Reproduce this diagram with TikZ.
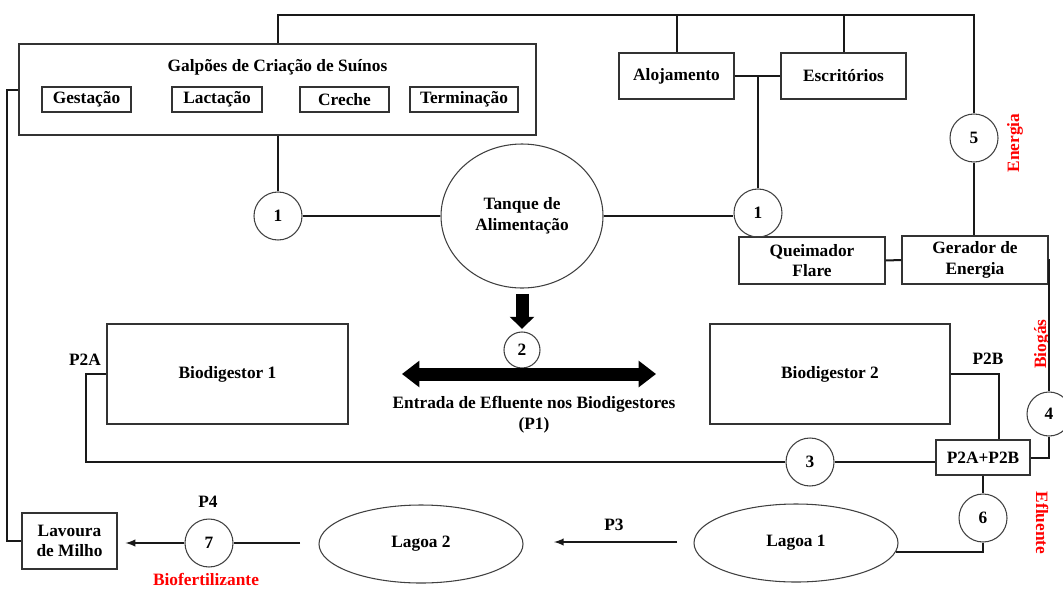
\documentclass[tikz,border=0pt]{standalone}
\usepackage{fontspec}
\setmainfont{Liberation Serif}
\usetikzlibrary{shapes.geometric, arrows.meta}

\begin{document}
\begin{tikzpicture}[x = 0.75pt, y = -0.75pt, > = latex,
	font = \bfseries\fontsize{13}{15.5}\selectfont,
	linha/.style = {line width = 1.5pt, draw = black!90},
	caixa/.style 2 args = {draw = black!80, line width = 0.9pt, rectangle, inner sep = 0pt, align = center, minimum width = #1*0.75pt, minimum height = #2*0.75pt},
	bolha/.style = {draw = black!75, line width = 0.8pt, circle, inner sep = 0pt, minimum size = 48*0.75pt},
	oval/.style 2 args = {draw = black!75, line width = 0.8pt, ellipse, inner sep = 0pt, align = center, minimum width = #1*0.75pt, minimum height = #2*0.75pt},
	seta/.style = {line width = 9.75pt, draw = black},
	rotulo/.style = {text = red}]

	\useasboundingbox (0, 0) rectangle (1063, 590);

	% Galpoes
	
	\node [caixa = {517}{91}] (galpoes) at (277.5, 89.5) {};
	\node (galpoesTitulo) at (277.5, 67) {Galpões de Criação de Suínos};
	\node [caixa = {89}{25}] (gestacao) at (86.5, 99.5) {Gestação};
	\node [caixa = {90}{25}] (lactacao) at (217, 99.5) {Lactação};
	\node [caixa = {89}{25}] (creche) at (344.5, 99.5) {Creche};
	\node [caixa = {108}{25}] (terminacao) at (464, 99.5) {Terminação};
	
	% Alojamento, escritorios, energia
	
	\node [caixa = {115}{46}] (alojamento) at (676.5, 76) {Alojamento};
	\node [caixa = {125}{46}] (escritorios) at (843.5, 76) {Escritórios};
	\node [caixa = {146}{47}] (queimador) at (812, 260.5) {Queimador\\Flare};
	\node [caixa = {146}{48}] (gerador) at (975, 260) {Gerador de\\Energia};
	\node [bolha] (c5) at (974, 138) {5};
	\node [rotulo, rotate = 90] (energia) at (1015, 143) {Energia};
	
	% Tanque
	
	\node [oval = {162}{144}] (tanque) at (522, 216) {Tanque de\\Alimentação};
	\node [bolha] (c1a) at (278, 216) {1};
	\node [bolha] (c1b) at (758, 213) {1};
	
	% Biodigestores
	
	\node [caixa = {241}{100}] (bio1) at (227.5, 374) {Biodigestor 1};
	\node [caixa = {240}{100}] (bio2) at (830, 374) {Biodigestor 2};
	\node (p2aTexto) at (85, 360) {P2A};
	\node (p2bTexto) at (988, 359) {P2B};
	\node [caixa = {94}{35}] (mistura) at (983, 457.5) {P2A+P2B};
	\node [bolha, minimum size = 36*0.75pt] (c2) at (522, 350) {2};
	\node [bolha] (c3) at (810, 462) {3};
	\node [bolha, minimum size = 44*0.75pt] (c4) at (1049, 414) {4};
	\node [rotulo, rotate = 90] (biogas) at (1042, 344) {Biogás};
	\node [align = center] (entrada) at (534, 415) {Entrada de Efluente nos Biodigestores\\(P1)};
	
	% Lagoas e lavoura
	
	\node [oval = {204}{78}] (lagoa1) at (796, 543) {Lagoa 1};
	\node [oval = {204}{78}] (lagoa2) at (421, 544) {Lagoa 2};
	\node [bolha] (c6) at (983, 518) {6};
	\node [rotulo, rotate = -90] (efluente) at (1042, 523) {Efluente};
	\node (p3Texto) at (614, 525) {P3};
	\node [bolha] (c7) at (209, 543) {7};
	\node (p4Texto) at (208, 502) {P4};
	\node [caixa = {95}{56}] (lavoura) at (69.5, 541) {Lavoura\\de Milho};
	\node [rotulo] (biofert) at (206, 579) {Biofertilizante};
	
	% Ligacoes
	
	\coordinate (barramento) at (974, 15);
	\coordinate (p2aCanto) at (86, 374);
	\coordinate (p2bCanto) at (999, 374);
	\coordinate (p3Inicio) at (677, 542);
	\coordinate (p3Fim) at (554, 542);
	\coordinate (p4Inicio) at (300, 543);
	
	\begin{scope}[linha]
	
		\draw (galpoes.north) |- (barramento) -- (c5.north);
		\draw (alojamento.north) -- (alojamento.north |- barramento);
		\draw (escritorios.north) -- (escritorios.north |- barramento);
		\draw (c5.south) -- (c5.south |- gerador.north);
		\draw (alojamento.east) -- (escritorios.west);
		\draw (c1b.north) -- (c1b.north |- alojamento.east);
		\draw (c1a.north |- galpoes.south) -- (c1a.north);
		\draw (c1a.east) -- (tanque.west);
		\draw (tanque.east) -- (tanque.east -| c1b.west);
		\draw (queimador.east) -- (gerador.west);
		\draw (gerador.east) -| (c4.north);
		\draw (c4.south) |- (mistura.east);
		\draw (bio2.east) -- (p2bCanto) -- (p2bCanto |- mistura.north);
		\draw (bio1.west) -- (p2aCanto) |- (c3.west);
		\draw (c3.east) -- (c3.east -| mistura.west);
		\draw (mistura.south) -- (c6.north);
		\draw (c6.south) |- (lagoa1.-5);
		\draw [->] (p3Inicio) -- (p3Fim);
		\draw (p4Inicio) -- (c7.east);
		\draw [->, shorten >= 6pt] (c7.west) -- (c7.west -| lavoura.east);
		\draw (galpoes.west) -- ++(-11, 0) |- (lavoura.west);
		
	\end{scope}
	
	% Entrada de efluente
	
	\draw [seta, -{Triangle[width = 18pt, length = 9pt]}, shorten <= 4pt, shorten >= 2pt] (tanque.south) -- (c2.north);
	\draw [seta, {Triangle[width = 19pt, length = 13pt]}-{Triangle[width = 19pt, length = 13pt]}, shorten <= 40pt, shorten >= 40pt] (bio1.east) -- (bio2.west);

\end{tikzpicture}
\end{document}
